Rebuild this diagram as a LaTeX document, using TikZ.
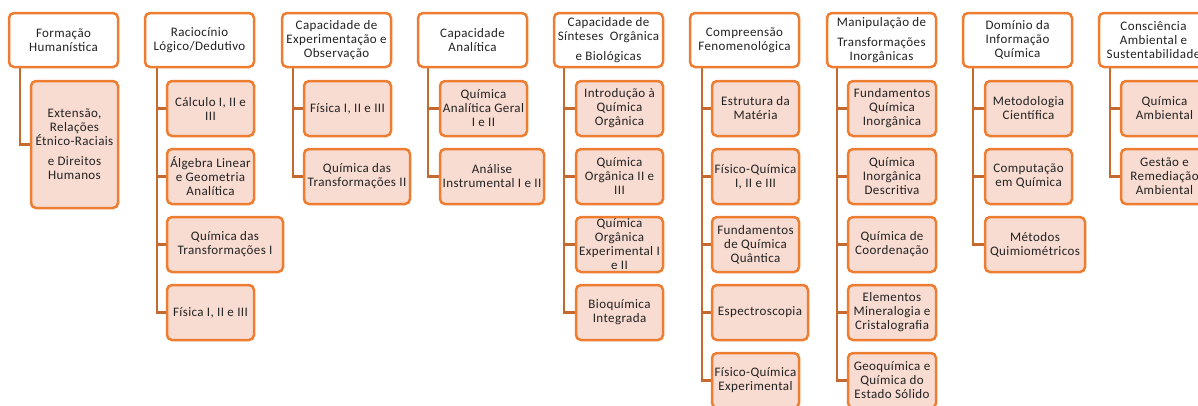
\documentclass[tikz,border=0pt]{standalone}
\usepackage{fontspec}
\setmainfont{Carlito}[LetterSpace=3]
\usetikzlibrary{backgrounds}
\definecolor{orgB}{HTML}{ED7D31}
\definecolor{conC}{HTML}{C5692E}
\definecolor{kidF}{HTML}{F8DBD1}
\definecolor{txC}{HTML}{222222}
\newcommand\ml[1]{\makebox[0pt]{#1}}
\begin{document}
\begin{tikzpicture}[x=1pt,y=-1pt,
  head/.style={draw=orgB, line width=2.5pt, fill=white, rounded corners=5pt,
    minimum width=109pt, minimum height=54pt, anchor=north west,
    inner sep=0pt, outer sep=0pt, align=center, text=txC,
    font=\fontsize{13}{14}\selectfont},
  kid/.style={head, fill=kidF, minimum width=87pt, minimum height=55pt},
  conn/.style={draw=conC, line width=2.5pt}]
\useasboundingbox (0,0) rectangle (1198,405);
\clip (0,0) rectangle (1198,405);
% column 1
\node[head] (h1) at (9,13) {\ml{Formação}\\\ml{Humanística}};
\node[kid, minimum height=127pt] (k11) at (31,81) {\ml{Extensão,}\\\ml{Relações}\\\ml{Étnico-Raciais}\\[6pt]\ml{e Direitos}\\\ml{Humanos}};
% column 2
\node[head] (h2) at (145,13) {\ml{Raciocínio}\\\ml{Lógico/Dedutivo}};
\node[kid] (k21) at (167,81) {\ml{Cálculo I, II e}\\\ml{III}};
\node[kid] (k22) at (167,149) {\ml{Álgebra Linear}\\\ml{e Geometria}\\\ml{Analítica}};
\node[kid, minimum width=116pt] (k23) at (167,217) {\ml{Química das}\\\ml{Transformações I}};
\node[kid] (k24) at (167,285) {\ml{Física I, II e III}};
% column 3
\node[head] (h3) at (282,13) {\ml{Capacidade de}\\\ml{Experimentação e}\\\ml{Observação}};
\node[kid] (k31) at (304,81) {\ml{Física I, II e III}};
\node[kid, minimum width=106pt] (k32) at (304,149) {\ml{Química das}\\\ml{Transformações II}};
% column 4
\node[head] (h4) at (418,13) {\ml{Capacidade}\\\ml{Analítica}};
\node[kid] (k41) at (440,81) {\ml{Química}\\\ml{Analítica Geral}\\\ml{I e II}};
\node[kid, minimum width=104pt] (k42) at (440,149) {\ml{Análise}\\\ml{Instrumental I e II}};
% column 5
\node[head] (h5) at (554,13) {\ml{Capacidade de}\\\ml{Sínteses\enspace Orgânica}\\[6pt]\ml{e Biológicas}};
\node[kid] (k51) at (576,81) {\ml{Introdução à}\\\ml{Química}\\\ml{Orgânica}};
\node[kid] (k52) at (576,149) {\ml{Química}\\\ml{Orgânica II e}\\\ml{III}};
\node[kid] (k53) at (576,217) {\ml{Química}\\\ml{Orgânica}\\\ml{Experimental I}\\\ml{e II}};
\node[kid] (k54) at (576,285) {\ml{Bioquímica}\\\ml{Integrada}};
% column 6
\node[head] (h6) at (690,13) {\ml{Compreensão}\\\ml{Fenomenológica}};
\node[kid] (k61) at (712,81) {\ml{Estrutura da}\\\ml{Matéria}};
\node[kid] (k62) at (712,149) {\ml{Físico-Química}\\\ml{I, II e III}};
\node[kid] (k63) at (712,217) {\ml{Fundamentos}\\\ml{de Química}\\\ml{Quântica}};
\node[kid, minimum width=96pt] (k64) at (712,285) {\ml{Espectroscopia}};
\node[kid] (k65) at (712,353) {\ml{Físico-Química}\\\ml{Experimental}};
% column 7
\node[head] (h7) at (827,13) {\ml{Manipulação de}\\[6pt]\ml{Transformações}\\\ml{Inorgânicas}};
\node[kid, minimum width=88pt] (k71) at (848,81) {\ml{Fundamentos}\\\ml{Química}\\\ml{Inorgânica}};
\node[kid, minimum width=88pt] (k72) at (848,149) {\ml{Química}\\\ml{Inorgânica}\\\ml{Descritiva}};
\node[kid, minimum width=88pt] (k73) at (848,217) {\ml{Química de}\\\ml{Coordenação}};
\node[kid, minimum width=88pt] (k74) at (848,285) {\ml{Elementos}\\\ml{Mineralogia e}\\\ml{Cristalografia}};
\node[kid, minimum width=88pt] (k75) at (848,353) {\ml{Geoquímica e}\\\ml{Química do}\\\ml{Estado Sólido}};
% column 8
\node[head] (h8) at (963,13) {\ml{Domínio da}\\\ml{Informação}\\\ml{Química}};
\node[kid] (k81) at (985,81) {\ml{Metodologia}\\\ml{Científica}};
\node[kid] (k82) at (985,149) {\ml{Computação}\\\ml{em Química}};
\node[kid, minimum width=100pt] (k83) at (985,217) {\ml{Métodos}\\\ml{Quimiométricos}};
% column 9
\node[head] (h9) at (1099,13) {\ml{Consciência}\\\ml{Ambiental e}\\\ml{Sustentabilidade}};
\node[kid] (k91) at (1121,81) {\ml{Química}\\\ml{Ambiental}};
\node[kid] (k92) at (1121,149) {\ml{Gestão e}\\\ml{Remediação}\\\ml{Ambiental}};
% connectors
\begin{scope}[on background layer]
\draw[conn] ([xshift=11pt]h1.south west) |- (k11.west);
\foreach \k in {k21,k22,k23,k24} \draw[conn] ([xshift=12pt]h2.south west) |- (\k.west);
\foreach \k in {k31,k32} \draw[conn] ([xshift=11pt]h3.south west) |- (\k.west);
\foreach \k in {k41,k42} \draw[conn] ([xshift=10pt]h4.south west) |- (\k.west);
\foreach \k in {k51,k52,k53,k54} \draw[conn] ([xshift=10pt]h5.south west) |- (\k.west);
\foreach \k in {k61,k62,k63,k64,k65} \draw[conn] ([xshift=12pt]h6.south west) |- (\k.west);
\foreach \k in {k71,k72,k73,k74,k75} \draw[conn] ([xshift=10pt]h7.south west) |- (\k.west);
\foreach \k in {k81,k82,k83} \draw[conn] ([xshift=10pt]h8.south west) |- (\k.west);
\foreach \k in {k91,k92} \draw[conn] ([xshift=11pt]h9.south west) |- (\k.west);
\end{scope}
\end{tikzpicture}
\end{document}
